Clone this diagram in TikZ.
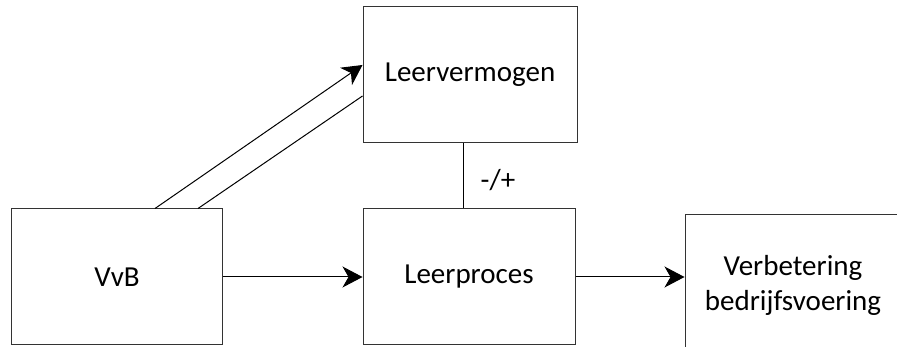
\documentclass[tikz,border=0pt]{standalone}
\usepackage{fontspec}
\setmainfont{Carlito}
\usetikzlibrary{arrows.meta}
\begin{document}
\begin{tikzpicture}[x=1pt,y=-1pt,
  box/.style={draw=black!80,line width=1pt,fill=white,rectangle,inner sep=0pt},
  txt/.style={font=\fontsize{29}{35}\selectfont,align=center,inner sep=0pt},
  arr/.style={line width=1pt,-{Stealth[length=20pt,width=21pt,inset=6pt]}}]
\clip (0,0) rectangle (897,347);
\fill[white] (0,0) rectangle (897,347);
% vertical connector drawn first, its tip hidden under Leerproces
\node[box,minimum width=214pt,minimum height=136pt] (lv) at (470,75) {};
\draw[arr] ([xshift=-7pt]lv.south) -- ([xshift=-7pt]lv.south |- 0,229) coordinate (vt);
\node[box,minimum width=211pt,minimum height=136pt] (vvb) at (117,277) {};
\node[box,minimum width=212pt,minimum height=136pt] (lp) at (469,277) {};
\node[box,minimum width=216pt,minimum height=140pt] (vb) at (793,285) {};
\node[txt] at (vvb) {VvB};
\node[txt] at (lv) {Leervermogen};
\node[txt] at (lp) {Leerproces};
\node[txt] at (vb) {Verbetering\\bedrijfsvoering};
\node[txt] (pm) at (498,180) {-/+};
\draw[arr] (vvb.east) -- (lp.west);
\draw[arr] (lp.east) -- (vb.west |- lp.east);
\draw[arr] ([xshift=38pt]vvb.north) -- ([yshift=10pt]lv.west);
\draw[line width=1pt] ([xshift=81pt]vvb.north) -- ([yshift=-21pt]lv.west);
\end{tikzpicture}
\end{document}
